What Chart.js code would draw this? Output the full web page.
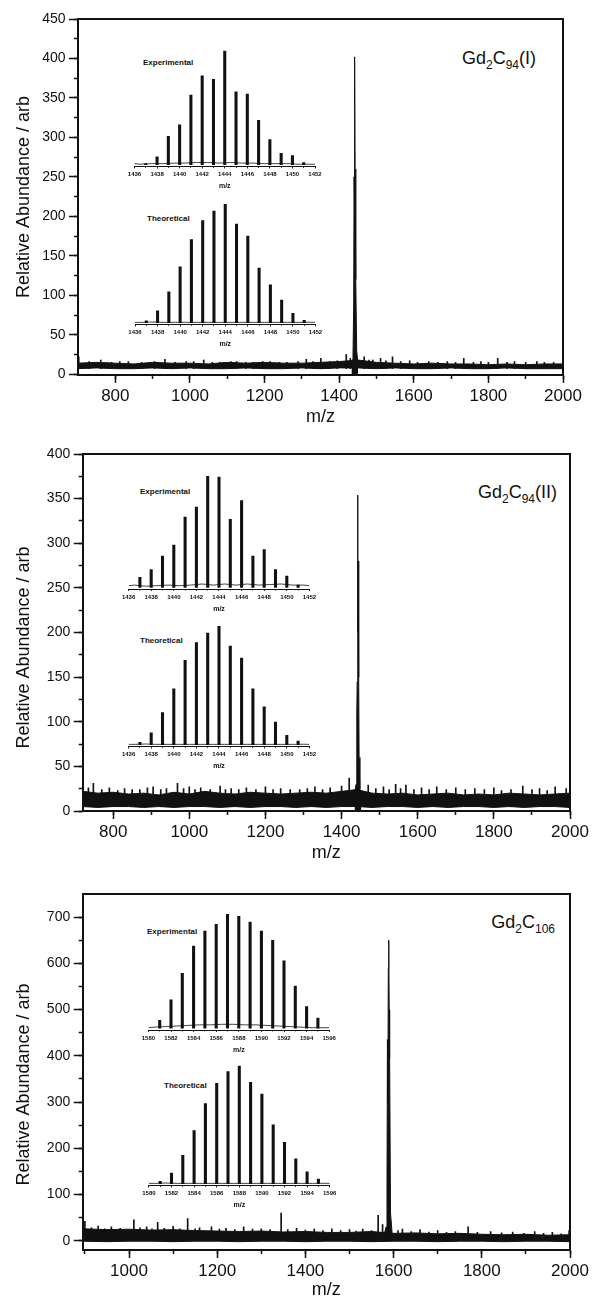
<!DOCTYPE html>
<html>
<head>
<meta charset="utf-8">
<script src="https://cdn.jsdelivr.net/npm/chart.js@4.4.1/dist/chart.umd.min.js"></script>
<style>
  body { margin: 0; background: #fff; width: 592px; height: 1299px; position: relative; overflow: hidden;
         font-family: "Liberation Sans", Arial, sans-serif; }
  canvas { position: absolute; }
  .lbl { position: absolute; font-weight: bold; font-size: 8px; line-height: 8px; color: #111; white-space: nowrap; }
  .cmp { position: absolute; font-size: 18px; line-height: 18px; color: #111; white-space: nowrap; }
  .cmp sub { font-size: 12px; vertical-align: -5px; line-height: 0; }
</style>
</head>
<body>
<div class="cmp" style="right:56px; top:49px">Gd<sub>2</sub>C<sub>94</sub>(I)</div>
<div class="cmp" style="right:35px; top:483px">Gd<sub>2</sub>C<sub>94</sub>(II)</div>
<div class="cmp" style="right:37px; top:913px">Gd<sub>2</sub>C<sub>106</sub></div>
<div class="lbl" style="left:143px; top:59px">Experimental</div>
<div class="lbl" style="left:147px; top:215px">Theoretical</div>
<div class="lbl" style="left:140px; top:488px">Experimental</div>
<div class="lbl" style="left:140px; top:637px">Theoretical</div>
<div class="lbl" style="left:147px; top:928px">Experimental</div>
<div class="lbl" style="left:164px; top:1082px">Theoretical</div>
<script>
const INK = '#111';
const FONT = '"Liberation Sans", Arial, sans-serif';
Chart.defaults.font.family = FONT;
Chart.defaults.color = INK;

const yTitle = 'Relative Abundance / arb';

// tick positions
const p1XTicks = [800, 1000, 1200, 1400, 1600, 1800, 2000];
const p1XMinor = [800, 900, 1000, 1100, 1200, 1300, 1400, 1500, 1600, 1700, 1800, 1900, 2000];
const p3XTicks = [1000, 1200, 1400, 1600, 1800, 2000];
const p3XMinor = [900, 1000, 1100, 1200, 1300, 1400, 1500, 1600, 1700, 1800, 1900, 2000];
const p1YTicks = [0, 50, 100, 150, 200, 250, 300, 350, 400, 450];
const p1YMinor = [0, 25, 50, 75, 100, 125, 150, 175, 200, 225, 250, 275, 300, 325, 350, 375, 400, 425, 450];
const p2YTicks = [0, 50, 100, 150, 200, 250, 300, 350, 400];
const p2YMinor = [0, 25, 50, 75, 100, 125, 150, 175, 200, 225, 250, 275, 300, 325, 350, 375, 400];
const p3YTicks = [0, 100, 200, 300, 400, 500, 600, 700];
const p3YMinor = [0, 50, 100, 150, 200, 250, 300, 350, 400, 450, 500, 550, 600, 650, 700];

// ---- panel 1, Gd2C94(I) ----
const p1NoiseX = [700, 750, 800, 850, 900, 950, 1000, 1050, 1100, 1150, 1200, 1250, 1300, 1350,
  1400, 1450, 1500, 1550, 1600, 1650, 1700, 1750, 1800, 1850, 1900, 1950, 2000];
const p1NoiseTop = [14, 15, 14, 13, 15, 14, 14, 13, 15, 14, 15, 14, 14, 15, 16, 18, 15, 14, 13, 14,
  13, 13, 12, 13, 12, 13, 13];
const p1NoiseBottom = [7, 8, 7, 7, 8, 7, 8, 7, 7, 8, 7, 7, 8, 7, 8, 8, 7, 8, 7, 7, 8, 7, 7, 8, 7, 7, 7];
const p1Floor = 7;
const p1SpikeX = [702, 730, 761, 790, 812, 835, 870, 905, 933, 960, 990, 1010, 1037, 1060, 1080, 1110,
  1125, 1150, 1170, 1195, 1215, 1240, 1260, 1290, 1312, 1330, 1351, 1375, 1395, 1419, 1430, 1467,
  1480, 1490, 1511, 1525, 1543, 1565, 1589, 1610, 1640, 1665, 1690, 1712, 1734, 1760, 1780, 1800,
  1825, 1850, 1870, 1900, 1930, 1950, 1975];
const p1SpikeY = [22, 16, 18, 15, 16, 16, 15, 16, 19, 15, 16, 16, 18, 15, 15, 16, 16, 15, 15, 16, 16,
  15, 15, 16, 19, 16, 20, 16, 17, 25, 20, 22, 18, 18, 20, 17, 22, 16, 17, 15, 16, 15, 16, 15, 20,
  15, 16, 15, 20, 15, 16, 15, 16, 15, 15];
const p1PeakX = [1433, 1437, 1439, 1440, 1441, 1442, 1443, 1444, 1445, 1447, 1451];
const p1PeakY = [10, 20, 90, 250, 200, 402, 230, 260, 120, 30, 10];

// ---- panel 2, Gd2C94(II) ----
const p2NoiseX = [720, 760, 800, 840, 880, 920, 960, 1000, 1040, 1080, 1120, 1160, 1200, 1240, 1280,
  1320, 1360, 1400, 1440, 1480, 1520, 1560, 1600, 1640, 1680, 1720, 1760, 1800, 1840, 1880, 1920,
  1960, 2000];
const p2NoiseTop = [22, 20, 21, 19, 20, 18, 21, 19, 22, 20, 19, 21, 20, 19, 20, 21, 20, 22, 24, 20,
  19, 20, 18, 19, 20, 18, 19, 18, 20, 19, 18, 19, 20];
const p2NoiseBottom = [5, 4, 5, 5, 4, 5, 4, 5, 5, 4, 5, 4, 5, 5, 4, 5, 4, 5, 5, 4, 5, 5, 4, 5, 4, 5,
  5, 4, 5, 4, 5, 5, 4];
const p2Floor = 5;
const p2SpikeX = [735, 748, 770, 790, 812, 830, 850, 870, 890, 905, 925, 940, 969, 985, 1000, 1015,
  1030, 1055, 1081, 1095, 1110, 1130, 1150, 1175, 1200, 1220, 1240, 1265, 1290, 1310, 1330, 1350,
  1370, 1400, 1420, 1470, 1490, 1510, 1525, 1542, 1555, 1569, 1590, 1610, 1630, 1650, 1675, 1700,
  1725, 1750, 1775, 1800, 1820, 1845, 1876, 1900, 1920, 1940, 1961, 1990];
const p2SpikeY = [26, 31, 24, 26, 23, 25, 24, 24, 26, 27, 24, 25, 31, 25, 27, 24, 26, 24, 28, 24, 25,
  24, 26, 24, 27, 24, 25, 24, 24, 25, 27, 24, 26, 28, 37, 29, 25, 27, 24, 30, 25, 29, 24, 26, 24,
  27, 24, 26, 24, 25, 24, 26, 23, 24, 28, 24, 25, 23, 27, 25];
const p2PeakX = [1434, 1438, 1440, 1441, 1442, 1443, 1444, 1445, 1446, 1448, 1452];
const p2PeakY = [18, 30, 110, 145, 354, 200, 280, 150, 60, 25, 18];

// ---- panel 3, Gd2C106 ----
const p3NoiseX = [895, 950, 1000, 1050, 1100, 1150, 1200, 1250, 1300, 1350, 1400, 1450, 1500, 1550,
  1600, 1650, 1700, 1750, 1800, 1850, 1900, 1950, 2000];
const p3NoiseTop = [26, 24, 25, 23, 24, 22, 21, 20, 21, 19, 20, 18, 18, 20, 16, 17, 15, 16, 14, 13,
  14, 12, 13];
const p3NoiseBottom = [-1, -2, -1, -1, -2, -1, -1, -2, -1, -1, -2, -1, -1, -2, -1, -1, -2, -1, -1, -2,
  -1, -1, -2];
const p3Floor = 0;
const p3SpikeX = [900, 915, 930, 945, 960, 980, 1011, 1025, 1040, 1052, 1065, 1080, 1100, 1115, 1133,
  1150, 1160, 1187, 1205, 1220, 1240, 1260, 1280, 1300, 1320, 1345, 1360, 1380, 1400, 1420, 1440,
  1460, 1480, 1500, 1515, 1530, 1550, 1565, 1575, 1610, 1620, 1640, 1660, 1680, 1700, 1720, 1740,
  1769, 1790, 1820, 1845, 1870, 1895, 1920, 1940, 1960, 1980, 1998];
const p3SpikeY = [42, 28, 32, 26, 30, 27, 45, 28, 30, 26, 40, 27, 31, 26, 48, 26, 28, 30, 25, 27, 24,
  30, 25, 26, 24, 60, 24, 27, 23, 25, 22, 26, 22, 24, 21, 25, 22, 55, 35, 22, 25, 20, 24, 19, 22,
  18, 20, 30, 18, 20, 17, 19, 16, 20, 16, 18, 15, 22];
const p3PeakX = [1579, 1583, 1585, 1586, 1587, 1588, 1589, 1590, 1591, 1593, 1597];
const p3PeakY = [15, 30, 120, 435, 300, 590, 650, 500, 395, 60, 12];

// ---- isotope insets (percent of the tallest line) ----
const c94Mass = [1437, 1438, 1439, 1440, 1441, 1442, 1443, 1444, 1445, 1446, 1447, 1448, 1449, 1450, 1451];
const c106Mass = [1581, 1582, 1583, 1584, 1585, 1586, 1587, 1588, 1589, 1590, 1591, 1592, 1593, 1594, 1595];
const p1Exp = [1, 7, 25, 35, 61, 78, 75, 100, 64, 62, 39, 22, 10, 8, 2];
const p1Theo = [1.5, 10, 26, 47, 70, 86, 94, 100, 83, 73, 46, 32, 19, 8, 2];
const p2Exp = [9, 16, 28, 38, 63, 72, 100, 99, 61, 78, 28, 34, 16, 10, 2];
const p2Theo = [2, 10, 27, 47, 71, 86, 94, 100, 83, 73, 47, 32, 19, 8, 3];
const p3Exp = [7, 25, 48, 72, 85, 91, 100, 98, 93, 85, 77, 59, 37, 19, 9];
const p3Theo = [2, 9, 24, 45, 68, 85, 95, 100, 86, 76, 50, 35, 21, 10, 4];

const c94Valley = [1436, 1436.5, 1437.5, 1438.5, 1439.5, 1440.5, 1441.5, 1442.5, 1443.5, 1444.5,
  1445.5, 1446.5, 1447.5, 1448.5, 1449.5, 1450.5, 1451.5, 1452];
const c106Valley = [1580, 1580.5, 1581.5, 1582.5, 1583.5, 1584.5, 1585.5, 1586.5, 1587.5, 1588.5,
  1589.5, 1590.5, 1591.5, 1592.5, 1593.5, 1594.5, 1595.5, 1596];
const p1ExpValley = [1, 0.5, 1, 1, 1.5, 1.5, 2, 2, 1.5, 2, 1.5, 1.5, 1, 1, 1, 0.5, 0.5, 0.5];
const p2ExpValley = [1.5, 2, 1, 1.5, 2, 1.5, 2, 3, 2, 3, 2, 3, 2, 2.5, 3, 2, 2, 1.5];
const p3ExpValley = [0.5, 1, 1.5, 2, 2.5, 3, 3, 3.5, 3.5, 3, 3, 2.5, 2, 1.5, 1, 0.5, 0.5, 0.5];
const theoValley = [0.3, 0.3, 0.6, 0.3, 0.3, 0.3, 0.3, 0.3, 0.3, 0.3, 0.3, 0.3, 0.3, 0.3, 0.3, 0.3, 0.4, 0.3];

const pts = (xs, ys) => xs.map((x, i) => ({ x: x, y: ys[i] }));
const bars = (xs, ys, floor) => xs.map((x, i) => ({ x: x, y: [floor, ys[i]] }));
const useTicks = list => (scale => { scale.ticks = list.map(v => ({ value: v })); });

function makeCanvas(left, top, w, h) {
  const c = document.createElement('canvas');
  c.width = w; c.height = h;
  c.style.left = left + 'px'; c.style.top = top + 'px';
  c.style.width = w + 'px'; c.style.height = h + 'px';
  document.body.appendChild(c);
  return c;
}

function mainChart(o) {
  const cv = makeCanvas(0, o.top, 592, o.height);
  const padBottom = o.height - (o.plotBottom - o.top) - o.xAxisH;
  new Chart(cv, {
    type: 'line',
    data: {
      datasets: [
        { data: pts(o.noiseX, o.noiseBottom), borderColor: INK, borderWidth: 1, pointRadius: 0, fill: false },
        { data: pts(o.noiseX, o.noiseTop), borderColor: INK, borderWidth: 1, pointRadius: 0,
          fill: '-1', backgroundColor: INK },
        { type: 'bar', data: bars(o.spikeX, o.spikeY, o.floor), backgroundColor: INK, barThickness: 1 },
        { data: pts(o.peakX, o.peakY), borderColor: INK, borderWidth: 1, pointRadius: 0,
          fill: 'origin', backgroundColor: INK }
      ]
    },
    options: {
      responsive: false, animation: false, events: [],
      layout: { padding: { left: 0, right: 592 - o.right, top: o.plotTop - o.top, bottom: padBottom } },
      plugins: { legend: { display: false }, tooltip: { enabled: false } },
      scales: {
        x: {
          type: 'linear', min: o.xMin, max: o.xMax, position: 'bottom', weight: 1, offset: false,
          border: { display: true, width: 2, color: INK },
          grid: { drawOnChartArea: false, offset: false, tickLength: 8, tickWidth: 1.5, color: INK },
          ticks: { autoSkip: false, maxRotation: 0, padding: 3, color: INK, font: { size: 17 },
                   callback: v => String(v) },
          afterBuildTicks: useTicks(o.xTicks),
          title: { display: true, text: 'm/z', color: INK, font: { size: 18, lineHeight: 1 }, padding: 0 },
          afterFit: s => { s.height = o.xAxisH; }
        },
        xMinor: {
          type: 'linear', min: o.xMin, max: o.xMax, position: 'bottom', weight: 0, offset: false,
          border: { display: false },
          grid: { drawOnChartArea: false, offset: false, tickLength: 4, tickWidth: 1.5, color: INK },
          ticks: { autoSkip: false, callback: () => '' },
          afterBuildTicks: useTicks(o.xMinor),
          afterFit: s => { s.height = 0; }
        },
        xTop: {
          type: 'linear', min: o.xMin, max: o.xMax, position: 'top', offset: false,
          border: { display: true, width: 2, color: INK },
          grid: { drawOnChartArea: false, drawTicks: false },
          ticks: { display: false },
          afterFit: s => { s.height = 0; }
        },
        y: {
          type: 'linear', min: o.yMin, max: o.yMax, position: 'left', weight: 1,
          border: { display: true, width: 2, color: INK },
          grid: { drawOnChartArea: false, tickLength: 9, tickWidth: 1.5, color: INK },
          ticks: { autoSkip: false, padding: 3.5, color: INK, font: { size: 14 }, callback: v => String(v) },
          afterBuildTicks: useTicks(o.yTicks),
          title: { display: true, text: o.title, color: INK, font: { size: 18, lineHeight: 1.2 },
                   padding: { top: 13.2, bottom: 0 } },
          afterFit: s => { s.width = o.left; }
        },
        yMinor: {
          type: 'linear', min: o.yMin, max: o.yMax, position: 'left', weight: 0,
          border: { display: false },
          grid: { drawOnChartArea: false, tickLength: 4, tickWidth: 1.5, color: INK },
          ticks: { autoSkip: false, callback: () => '' },
          afterBuildTicks: useTicks(o.yMinor),
          afterFit: s => { s.width = 0; }
        },
        yRight: {
          type: 'linear', min: o.yMin, max: o.yMax, position: 'right',
          border: { display: true, width: 2, color: INK },
          grid: { drawOnChartArea: false, drawTicks: false },
          ticks: { display: false },
          afterFit: s => { s.width = 0; }
        }
      }
    }
  });
}

function insetChart(o) {
  const axisH = 23.5;
  const left = Math.round(o.x0 - 12);
  const padL = o.x0 - left;
  const w = Math.round(o.x1 - left + 12);
  const padR = w - (o.x1 - left);
  const top = Math.round(o.top - 4);
  const padT = o.top - top;
  const h = Math.round(o.axis - top + axisH + 3);
  const padB = h - (o.axis - top) - axisH;
  const cv = makeCanvas(left, top, w, h);
  new Chart(cv, {
    type: 'line',
    data: {
      datasets: [
        { data: pts(o.valleyX, o.valleyY), borderColor: INK, borderWidth: 0.8, pointRadius: 0, fill: false },
        { type: 'bar', data: bars(o.massX, o.massY, 0), backgroundColor: INK, barThickness: 2.4 }
      ]
    },
    options: {
      responsive: false, animation: false, events: [],
      layout: { padding: { left: padL, right: padR, top: padT, bottom: padB } },
      plugins: { legend: { display: false }, tooltip: { enabled: false } },
      scales: {
        x: {
          type: 'linear', min: o.min, max: o.min + 16, position: 'bottom', weight: 1, offset: false,
          border: { display: true, width: 1, color: INK },
          grid: { drawOnChartArea: false, offset: false, tickLength: 2, tickWidth: 0.8, color: INK },
          ticks: { stepSize: 2, autoSkip: false, maxRotation: 0, padding: 2.4, color: INK,
                   font: { size: 6, weight: 'bold' }, callback: v => String(v) },
          title: { display: true, text: 'm/z', color: INK, font: { size: 7, weight: 'bold', lineHeight: 1 }, padding: 0 },
          afterFit: s => { s.height = axisH; }
        },
        xMinor: {
          type: 'linear', min: o.min, max: o.min + 16, position: 'bottom', weight: 0, offset: false,
          border: { display: false },
          grid: { drawOnChartArea: false, offset: false, tickLength: 1.5, tickWidth: 0.8, color: INK },
          ticks: { stepSize: 1, autoSkip: false, callback: () => '' },
          afterFit: s => { s.height = 0; }
        },
        y: { type: 'linear', display: false, min: -1.5, max: 100 }
      }
    }
  });
}

mainChart({ top: 0, height: 440, plotTop: 19, plotBottom: 375, left: 78, right: 563, xAxisH: 51,
  xMin: 700, xMax: 2000, yMin: -1, yMax: 450, title: yTitle,
  xTicks: p1XTicks, xMinor: p1XMinor, yTicks: p1YTicks, yMinor: p1YMinor,
  noiseX: p1NoiseX, noiseTop: p1NoiseTop, noiseBottom: p1NoiseBottom,
  spikeX: p1SpikeX, spikeY: p1SpikeY, floor: p1Floor, peakX: p1PeakX, peakY: p1PeakY });

mainChart({ top: 430, height: 440, plotTop: 454, plotBottom: 811, left: 82.7, right: 570, xAxisH: 51,
  xMin: 720, xMax: 2000, yMin: 0, yMax: 400, title: yTitle + '      ',
  xTicks: p1XTicks, xMinor: p1XMinor, yTicks: p2YTicks, yMinor: p2YMinor,
  noiseX: p2NoiseX, noiseTop: p2NoiseTop, noiseBottom: p2NoiseBottom,
  spikeX: p2SpikeX, spikeY: p2SpikeY, floor: p2Floor, peakX: p2PeakX, peakY: p2PeakY });

mainChart({ top: 866, height: 433, plotTop: 894, plotBottom: 1250, left: 82.7, right: 570, xAxisH: 49,
  xMin: 895, xMax: 2000, yMin: -20, yMax: 750, title: yTitle + '     ',
  xTicks: p3XTicks, xMinor: p3XMinor, yTicks: p3YTicks, yMinor: p3YMinor,
  noiseX: p3NoiseX, noiseTop: p3NoiseTop, noiseBottom: p3NoiseBottom,
  spikeX: p3SpikeX, spikeY: p3SpikeY, floor: p3Floor, peakX: p3PeakX, peakY: p3PeakY });

insetChart({ x0: 134.5, x1: 315, top: 50.7, axis: 166.5, min: 1436,
  massX: c94Mass, massY: p1Exp, valleyX: c94Valley, valleyY: p1ExpValley });
insetChart({ x0: 135, x1: 315.5, top: 204, axis: 324.5, min: 1436,
  massX: c94Mass, massY: p1Theo, valleyX: c94Valley, valleyY: theoValley });
insetChart({ x0: 128.6, x1: 309.4, top: 476, axis: 589, min: 1436,
  massX: c94Mass, massY: p2Exp, valleyX: c94Valley, valleyY: p2ExpValley });
insetChart({ x0: 128.6, x1: 309.4, top: 626, axis: 746.5, min: 1436,
  massX: c94Mass, massY: p2Theo, valleyX: c94Valley, valleyY: theoValley });
insetChart({ x0: 148.4, x1: 329.2, top: 914, axis: 1030, min: 1580,
  massX: c106Mass, massY: p3Exp, valleyX: c106Valley, valleyY: p3ExpValley });
insetChart({ x0: 148.9, x1: 329.7, top: 1065.7, axis: 1185.5, min: 1580,
  massX: c106Mass, massY: p3Theo, valleyX: c106Valley, valleyY: theoValley });
</script>
</body>
</html>
